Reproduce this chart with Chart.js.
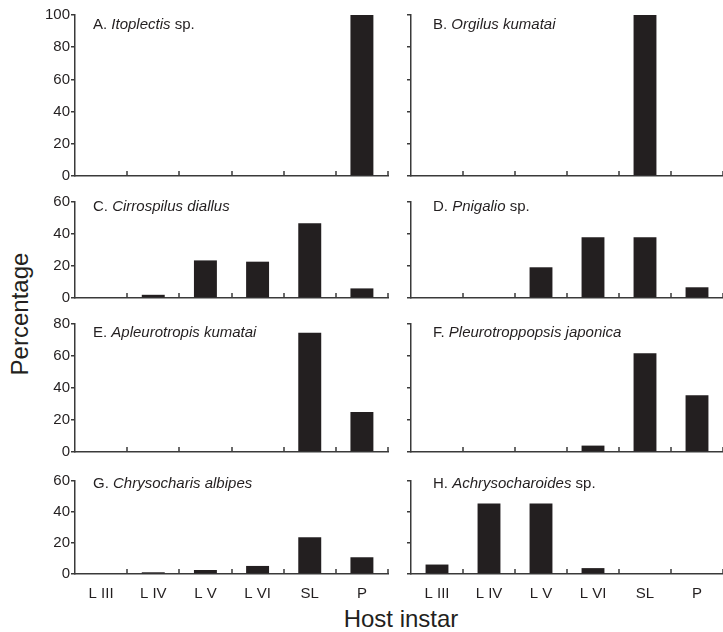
<!DOCTYPE html>
<html>
<head>
<meta charset="utf-8">
<script src="https://cdn.jsdelivr.net/npm/chart.js@4.4.1/dist/chart.umd.min.js"></script>
<style>
  body { margin: 0; background: #fff; }
  #fig { position: relative; width: 723px; height: 632px; overflow: hidden;
         font-family: "Liberation Sans", Arial, sans-serif; color: #231f20; }
  #fig canvas { position: absolute; }
  .ylab { position: absolute; left: 20px; top: 314px; transform: translate(-50%, -50%) rotate(-90deg);
          font-size: 24px; white-space: nowrap; }
  .xlab { position: absolute; left: 401px; top: 619px; transform: translate(-50%, -50%);
          font-size: 24px; white-space: nowrap; }
</style>
</head>
<body>
<div id="fig">
  <div class="ylab">Percentage</div>
  <div class="xlab">Host instar</div>
</div>
<script>
// host instars (x categories)
const instars = ['L III', 'L IV', 'L V', 'L VI', 'SL', 'P'];

// panel titles
const panelLetters = ['A.', 'B.', 'C.', 'D.', 'E.', 'F.', 'G.', 'H.'];
const taxa = ['Itoplectis', 'Orgilus kumatai', 'Cirrospilus diallus', 'Pnigalio',
              'Apleurotropis kumatai', 'Pleurotroppopsis japonica', 'Chrysocharis albipes', 'Achrysocharoides'];
const taxaSuffix = [' sp.', '', '', ' sp.', '', '', '', ' sp.'];

// percentage per instar, one array per parasitoid
const pctA = [0, 0, 0, 0, 0, 100];
const pctB = [0, 0, 0, 0, 100, 0];
const pctC = [0, 2, 23.5, 22.7, 46.7, 6];
const pctD = [0, 0, 19.2, 37.9, 37.9, 6.7];
const pctE = [0, 0, 0, 0, 74.6, 25];
const pctF = [0, 0, 0, 4, 61.7, 35.4];
const pctG = [0, 1.1, 2.6, 5.2, 23.7, 10.8];
const pctH = [6.1, 45.5, 45.5, 3.8, 0, 0];
const series = [pctA, pctB, pctC, pctD, pctE, pctF, pctG, pctH];

// y axis tops
const yMax = [100, 100, 60, 60, 80, 80, 60, 60];

const ink = '#231f20';
const axisInk = '#3a3a3a';
const family = '"Liberation Sans", Arial, sans-serif';

// page layout of the plot areas
const rows = [
  { top: 15, bottom: 176, titleY: 25 },
  { top: 202, bottom: 298, titleY: 207 },
  { top: 324, bottom: 452, titleY: 333 },
  { top: 481, bottom: 574, titleY: 484 }
];
const cols = [
  { canvasLeft: 0, left: 75, right: 388, titleX: 93 },
  { canvasLeft: 390, left: 411, right: 723, titleX: 433 }
];

// short inward tick marks between instars
const innerTicks = {
  id: 'innerTicks',
  afterDraw(chart) {
    const xs = chart.scales.x, ctx = chart.ctx, y0 = chart.chartArea.bottom;
    ctx.save();
    ctx.strokeStyle = axisInk;
    ctx.lineWidth = 1.5;
    ctx.beginPath();
    for (let i = 0; i < instars.length; i++) {
      const x = Math.round(xs.getPixelForValue(i + 0.5));
      ctx.moveTo(x, y0);
      ctx.lineTo(x, y0 - 5);
    }
    ctx.stroke();
    ctx.restore();
  }
};

// "A. Genus species" with the name in italics
const panelTitle = {
  id: 'panelTitle',
  afterDraw(chart, args, opts) {
    const ctx = chart.ctx;
    ctx.save();
    ctx.fillStyle = ink;
    ctx.textBaseline = 'middle';
    let x = opts.x;
    [[opts.letter + ' ', 'normal'], [opts.taxon, 'italic'], [opts.suffix, 'normal']].forEach(([t, st]) => {
      if (!t) return;
      ctx.font = st + ' 15px ' + family;
      ctx.fillText(t, x, opts.y);
      x += ctx.measureText(t).width;
    });
    ctx.restore();
  }
};

const fig = document.getElementById('fig');

series.forEach((vals, i) => {
  const row = rows[Math.floor(i / 2)];
  const col = cols[i % 2];
  const bottomRow = Math.floor(i / 2) === rows.length - 1;
  const padTop = 10;
  const xh = bottomRow ? 40 : 12;
  const yW = col.left - col.canvasLeft;
  const canvasTop = row.top - padTop;

  const cv = document.createElement('canvas');
  cv.width = col.right - col.canvasLeft + 2;
  cv.height = padTop + (row.bottom - row.top) + xh;
  cv.style.left = col.canvasLeft + 'px';
  cv.style.top = canvasTop + 'px';
  fig.appendChild(cv);

  new Chart(cv, {
    type: 'bar',
    data: {
      labels: instars,
      datasets: [{
        data: vals,
        backgroundColor: ink,
        barPercentage: 0.44,
        categoryPercentage: 1
      }]
    },
    options: {
      responsive: false,
      animation: false,
      devicePixelRatio: 1,
      layout: { padding: { top: padTop, right: 2, left: 0, bottom: 0 } },
      plugins: {
        legend: { display: false },
        tooltip: { enabled: false },
        panelTitle: {
          letter: panelLetters[i], taxon: taxa[i], suffix: taxaSuffix[i],
          x: col.titleX - col.canvasLeft, y: row.titleY - canvasTop
        }
      },
      scales: {
        x: {
          grid: { display: false, drawTicks: false },
          border: { color: axisInk, width: 1.5 },
          ticks: { display: bottomRow, color: ink, font: { size: 15, family }, padding: 11,
                   maxRotation: 0, autoSkip: false },
          afterFit: s => { s.height = xh; }
        },
        y: {
          min: 0,
          max: yMax[i],
          ticks: { stepSize: 20, display: i % 2 === 0, color: ink, font: { size: 15, family }, padding: 1 },
          grid: { drawOnChartArea: false, drawTicks: true, tickLength: 4, color: axisInk, lineWidth: 1.5 },
          border: { color: axisInk, width: 1.5 },
          afterFit: s => { s.width = yW; }
        }
      }
    },
    plugins: [innerTicks, panelTitle]
  });
});
</script>
</body>
</html>
